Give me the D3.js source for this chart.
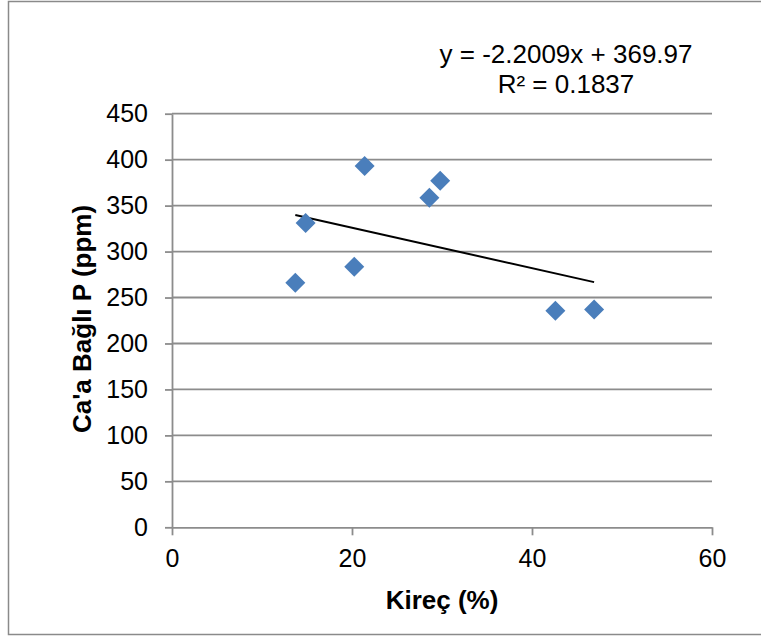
<!DOCTYPE html>
<html lang="en">
<head>
    <meta charset="UTF-8">
    <title>Kireç - Ca'a Bağlı P</title>
    <script src="https://cdn.jsdelivr.net/npm/d3@7"></script>
    <style>
        body { margin: 0; background: #fff; }
        svg { display: block; font-family: "Liberation Sans", Arial, sans-serif; }
    </style>
</head>
<body>
    <div id="chart"></div>
    <script>
        // data
        const kirec = [13.7, 14.85, 20.25, 21.4, 28.6, 29.8, 42.6, 46.9];
        const caP = [266, 331, 283.5, 393, 358.5, 377, 235.5, 237];
        const xTicks = [0, 20, 40, 60];
        const yTicks = [0, 50, 100, 150, 200, 250, 300, 350, 400, 450];
        const slope = -2.2009, intercept = 369.97;
        const eqText = "y = -2.2009x + 369.97";
        const r2Text = "R² = 0.1837";

        const width = 761, height = 639;
        const plot = { left: 172, right: 712, top: 113.7, bottom: 527.3 };
        const gridColor = "#8c8c8c";

        const svg = d3.select("#chart").append("svg")
            .attr("width", width)
            .attr("height", height);

        // outer frame (right edge runs past the picture)
        svg.append("rect")
            .attr("x", 8.5).attr("y", 1.5)
            .attr("width", 800).attr("height", 633)
            .attr("fill", "none")
            .attr("stroke", "#8a8a8a")
            .attr("stroke-width", 1.5);

        const x = d3.scaleLinear().domain([0, 60]).range([plot.left, plot.right]);
        const y = d3.scaleLinear().domain([0, 450]).range([plot.bottom, plot.top]);

        // horizontal gridlines
        svg.append("g")
            .selectAll("line")
            .data(yTicks.filter(d => d > 0))
            .join("line")
            .attr("x1", plot.left).attr("x2", plot.right)
            .attr("y1", d => y(d)).attr("y2", d => y(d))
            .attr("stroke", gridColor)
            .attr("stroke-width", 1.8);

        // y axis
        const yAxis = svg.append("g")
            .attr("transform", `translate(${plot.left},0)`)
            .call(d3.axisLeft(y).tickValues(yTicks).tickSize(7).tickPadding(17).tickSizeOuter(0));
        yAxis.select(".domain").attr("stroke", gridColor).attr("stroke-width", 1.8);
        yAxis.selectAll(".tick line").attr("stroke", gridColor).attr("stroke-width", 1.8);
        yAxis.selectAll(".tick text")
            .attr("fill", "#000")
            .style("font-size", "25px")
            .style("font-family", "Liberation Sans, Arial, sans-serif");

        // x axis
        const xAxis = svg.append("g")
            .attr("transform", `translate(0,${plot.bottom})`)
            .call(d3.axisBottom(x).tickValues(xTicks).tickSize(8).tickPadding(14).tickSizeOuter(0));
        xAxis.select(".domain").attr("stroke", gridColor).attr("stroke-width", 1.8);
        xAxis.selectAll(".tick line").attr("stroke", gridColor).attr("stroke-width", 1.8);
        xAxis.selectAll(".tick text")
            .attr("fill", "#000")
            .style("font-size", "25px")
            .style("font-family", "Liberation Sans, Arial, sans-serif");

        // linear trendline, from smallest to largest x
        const xExt = d3.extent(kirec);
        svg.append("line")
            .attr("x1", x(xExt[0])).attr("y1", y(slope * xExt[0] + intercept))
            .attr("x2", x(xExt[1])).attr("y2", y(slope * xExt[1] + intercept))
            .attr("stroke", "#000")
            .attr("stroke-width", 2);

        // diamond markers
        const diamond = d3.symbol().type(d3.symbolSquare).size(200);
        svg.append("g")
            .selectAll("path")
            .data(kirec.map((k, i) => [k, caP[i]]))
            .join("path")
            .attr("d", diamond)
            .attr("transform", d => `translate(${x(d[0])},${y(d[1])}) rotate(45)`)
            .attr("fill", "#4a7ebb");

        // trendline equation
        svg.append("text")
            .attr("x", 566).attr("y", 63)
            .attr("text-anchor", "middle")
            .style("font-size", "26px")
            .text(eqText);
        svg.append("text")
            .attr("x", 566).attr("y", 93)
            .attr("text-anchor", "middle")
            .style("font-size", "26px")
            .text(r2Text);

        // axis titles
        svg.append("text")
            .attr("x", (plot.left + plot.right) / 2).attr("y", 609)
            .attr("text-anchor", "middle")
            .style("font-size", "26px")
            .style("font-weight", "bold")
            .text("Kireç (%)");

        svg.append("text")
            .attr("transform", `translate(91,319) rotate(-90)`)
            .attr("text-anchor", "middle")
            .style("font-size", "26px")
            .style("font-weight", "bold")
            .text("Ca'a Bağlı P (ppm)");
    </script>
</body>
</html>
